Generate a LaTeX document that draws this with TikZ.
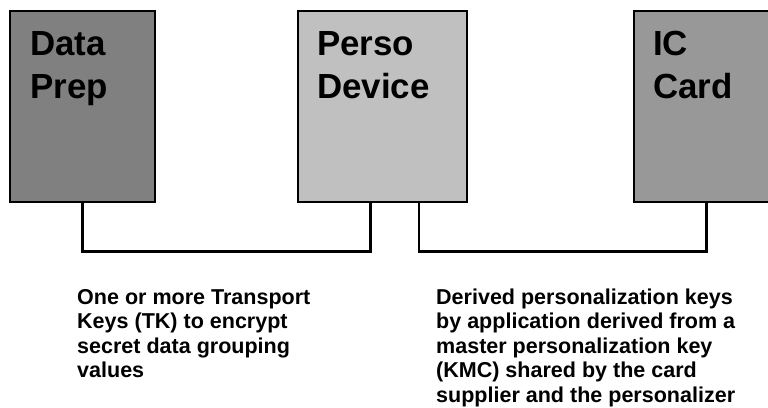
\documentclass[tikz,border=0pt]{standalone}
\usepackage{fontspec}
\setmainfont{Liberation Sans}
\begin{document}
\begin{tikzpicture}[x=1bp,y=-1bp,
  box/.style={draw=black,line width=1.5bp,inner sep=0pt,anchor=north west},
  title/.style={anchor=base west,inner sep=0pt,align=left,font=\fontsize{35}{43.5}\selectfont\bfseries},
  note/.style={anchor=base west,inner sep=0pt,align=left,font=\fontsize{21.6}{24.5}\selectfont\bfseries},
  conn/.style={draw=black,line width=2.5bp}]
\useasboundingbox (0,0) rectangle (768,407);
\clip (0,0) rectangle (768,407);
\fill[white] (0,0) rectangle (768,407);
\node[box,fill={rgb,255:red,128;green,128;blue,128},minimum width=145bp,minimum height=191bp] (dp) at (9,10) {};
\node[box,fill={rgb,255:red,192;green,192;blue,192},minimum width=169bp,minimum height=191bp] (pd) at (297,10) {};
\node[box,fill={rgb,255:red,152;green,152;blue,152},minimum width=145bp,minimum height=191bp] (ic) at (633,10) {};
\node[title] (t1) at (30,98.5) {Data\\Prep};
\node[title] (t2) at (317,98.5) {Perso\\Device};
\node[title] (t3) at (653,98.5) {IC\\Card};
\draw[conn] (dp.south) -- ++(0,49) -| ([xshift=-11.8bp]pd.south);
\draw[conn] ([xshift=36.5bp]pd.south) -- ++(0,49) -| (ic.south);
\node[note] (n1) at (77,377.5) {One or more Transport\\Keys (TK) to encrypt\\secret data grouping\\values};
\node[note] (n2) at (436,402) {Derived personalization keys\\by application derived from a\\master personalization key\\(KMC) shared by the card\\supplier and the personalizer};
\end{tikzpicture}
\end{document}
